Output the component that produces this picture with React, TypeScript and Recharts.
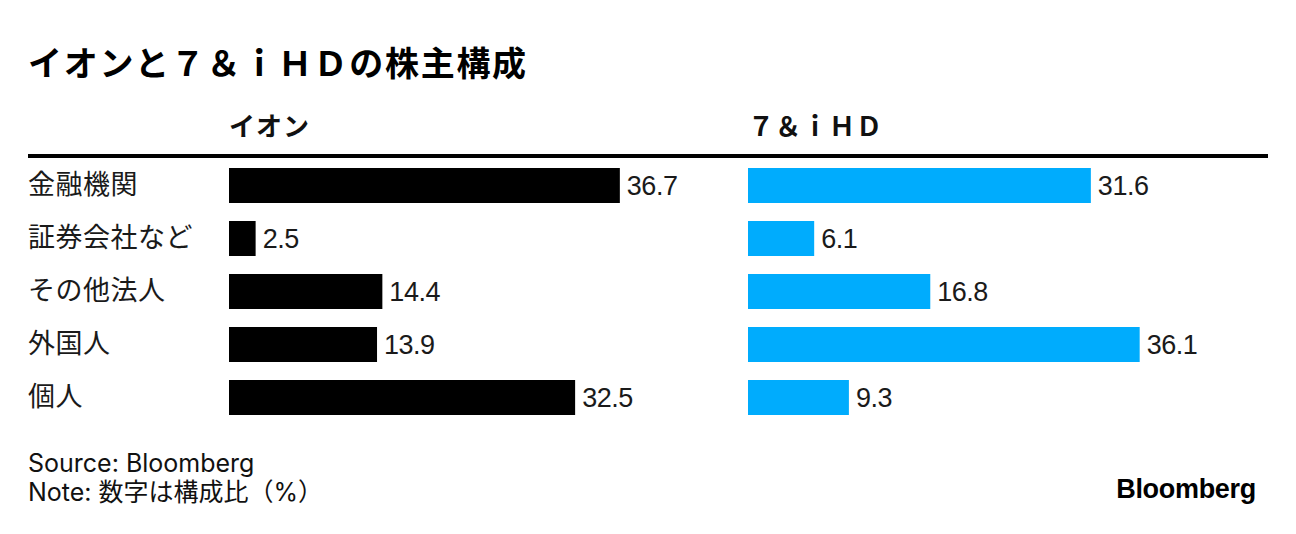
import React from 'react';
import { BarChart, Bar, XAxis, YAxis, LabelList } from 'recharts';

const categories = ['金融機関', '証券会社など', 'その他法人', '外国人', '個人'];
const aeonValues = [36.7, 2.5, 14.4, 13.9, 32.5];
const sevenValues = [31.6, 6.1, 16.8, 36.1, 9.3];

const chartData = categories.map((name, i) => ({ name, aeon: aeonValues[i], seven: sevenValues[i] }));

const JP = '"Noto Sans CJK JP", "Noto Sans", sans-serif';
const LATIN = '"Liberation Sans", Arial, sans-serif';
const BLUE = '#00ACFD';

const CategoryTick = (props: any) => {
  const { y, payload } = props;
  return (
    <text x={28} y={y} dy={-3} textAnchor="start" dominantBaseline="central" fontFamily={JP} fontSize={27} letterSpacing={0.5} fill="#1a1a1a">
      {payload.value}
    </text>
  );
};

const labelProps = { fill: '#1a1a1a', fontSize: 27, fontFamily: LATIN, style: { letterSpacing: '-0.5px' } };

export default function App() {
  return (
    <div style={{ position: 'absolute', left: 0, top: 0, width: 1296, height: 534, background: '#fff', overflow: 'hidden' }}>
      <div style={{ position: 'absolute', left: 28, top: 37, fontFamily: JP, fontWeight: 700, fontSize: 34, letterSpacing: 1.7, color: '#000', lineHeight: '50px' }}>
        イオンと７＆ｉＨＤの株主構成
      </div>
      <div style={{ position: 'absolute', left: 229, top: 105, fontFamily: JP, fontWeight: 700, fontSize: 26, letterSpacing: 1, color: '#111', lineHeight: '40px' }}>
        イオン
      </div>
      <div style={{ position: 'absolute', left: 748, top: 105, fontFamily: JP, fontWeight: 700, fontSize: 26, letterSpacing: 1, color: '#111', lineHeight: '40px' }}>
        ７＆ｉＨＤ
      </div>
      <div style={{ position: 'absolute', left: 28, top: 154, width: 1240, height: 4, background: '#000' }} />

      <div style={{ position: 'absolute', left: 0, top: 159 }}>
        <BarChart width={740} height={265} data={chartData} layout="vertical" margin={{ top: 0, right: 85, bottom: 0, left: 0 }} barCategoryGap={0}>
          <XAxis type="number" domain={[0, 40]} hide />
          <YAxis type="category" dataKey="name" width={229} axisLine={false} tickLine={false} tick={CategoryTick} />
          <Bar dataKey="aeon" fill="#000" barSize={35} isAnimationActive={false}>
            <LabelList dataKey="aeon" position="right" offset={7} {...labelProps} />
          </Bar>
        </BarChart>
      </div>

      <div style={{ position: 'absolute', left: 748, top: 159 }}>
        <BarChart width={548} height={265} data={chartData} layout="vertical" margin={{ top: 0, right: 114, bottom: 0, left: 0 }} barCategoryGap={0}>
          <XAxis type="number" domain={[0, 40]} hide />
          <YAxis type="category" dataKey="name" hide />
          <Bar dataKey="seven" fill={BLUE} barSize={35} isAnimationActive={false}>
            <LabelList dataKey="seven" position="right" offset={7} {...labelProps} />
          </Bar>
        </BarChart>
      </div>

      <div style={{ position: 'absolute', left: 28, top: 449, fontFamily: `Inter, ${JP}`, fontSize: 25, color: '#111', lineHeight: '29px' }}>
        <div>Source: Bloomberg</div>
        <div>Note: 数字は構成比（%）</div>
      </div>
      <div style={{ position: 'absolute', right: 40, top: 474, fontFamily: LATIN, fontWeight: 700, fontSize: 27, letterSpacing: -0.3, color: '#000' }}>
        Bloomberg
      </div>
    </div>
  );
}
